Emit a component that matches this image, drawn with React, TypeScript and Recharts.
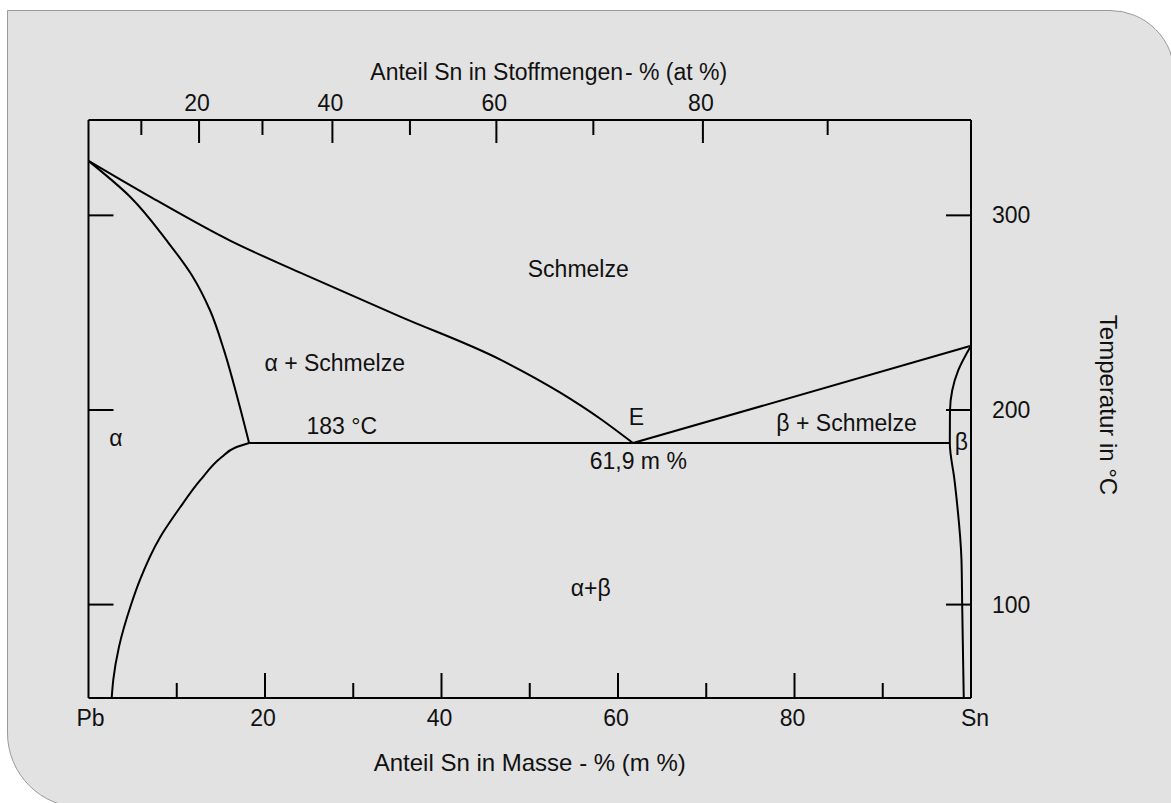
import { ComposedChart, Line, XAxis, YAxis, ReferenceDot } from 'recharts';

// Pb-Sn phase diagram, mass-% Sn on x, temperature °C on y
const massTicks = [0, 10, 20, 30, 40, 50, 60, 70, 80, 90, 100];
const atTicks = [10, 20, 30, 40, 50, 60, 70, 80, 90];
const tempTicks = [100, 200, 300];

const liquidusLeft = [
  { m: 0, t: 328 }, { m: 6.97, t: 309.6 }, { m: 16.04, t: 287 }, { m: 23.98, t: 270.6 },
  { m: 35.32, t: 248 }, { m: 46.66, t: 225.9 }, { m: 53.46, t: 208.9 }, { m: 57.99, t: 195.5 },
  { m: 61.7, t: 183 },
];
const liquidusRight = [{ m: 61.7, t: 183 }, { m: 100, t: 233 }];
const solidusAlpha = [
  { m: 0, t: 328 }, { m: 4.71, t: 309.6 }, { m: 8.87, t: 287 }, { m: 11.73, t: 269.1 },
  { m: 13.78, t: 251.1 }, { m: 15.36, t: 230.6 }, { m: 16.95, t: 205 }, { m: 18.2, t: 183 },
];
const solvusAlpha = [
  { m: 18.2, t: 183 }, { m: 16.6, t: 180.6 }, { m: 15.1, t: 175.8 }, { m: 12.64, t: 163.8 },
  { m: 10.37, t: 149.9 }, { m: 8.1, t: 134.5 }, { m: 5.84, t: 112.8 }, { m: 4.82, t: 99.9 },
  { m: 3.46, t: 78.4 }, { m: 2.81, t: 61.4 }, { m: 2.63, t: 52 },
];
const betaCurve = [
  { m: 99.18, t: 52 }, { m: 99.0, t: 100 }, { m: 98.92, t: 123 }, { m: 98.13, t: 164 },
  { m: 97.6, t: 183 }, { m: 97.62, t: 199.7 }, { m: 97.87, t: 210 }, { m: 98.55, t: 220.3 },
  { m: 100, t: 233 },
];
const eutectic = [{ m: 18.2, t: 183 }, { m: 97.6, t: 183 }];

const regionLabels = [
  { text: 'Schmelze', m: 55.5, t: 272.7 },
  { text: 'α + Schmelze', m: 27.9, t: 224.4 },
  { text: '183 °C', m: 28.7, t: 192 },
  { text: 'E', m: 62.1, t: 196.3 },
  { text: '61,9 m %', m: 62.3, t: 173.7 },
  { text: 'β + Schmelze', m: 85.9, t: 193.6 },
  { text: 'β', m: 98.9, t: 183.5 },
  { text: 'α', m: 3.1, t: 185.9 },
  { text: 'α+β', m: 56.9, t: 108.4 },
];

const M_SN = 118.71;
const M_PB = 207.2;
const massFromAt = (a: number) => (a * M_SN) / (a * M_SN + (100 - a) * M_PB) * 100;

const FONT = '"Liberation Sans", Arial, sans-serif';
const FS = 23;
const TITLE_FS = 24;
const INK = '#111';

const BottomTick = (props: any) => {
  const { x, y, payload } = props;
  const v = payload.value;
  const label = v === 0 ? 'Pb' : v === 100 ? 'Sn' : v % 20 === 0 ? String(v) : '';
  const len = v % 20 === 0 ? 25 : 15;
  return (
    <g>
      {v > 0 && v < 100 && <line x1={x} y1={y} x2={x} y2={y - len} stroke="#000" strokeWidth={2} />}
      {label && (
        <text x={x + (v === 0 ? 2 : v === 100 ? 4 : -2)} y={y + 20} textAnchor="middle" dominantBaseline="central"
          fontFamily={FONT} fontSize={FS} fill={INK}>{label}</text>
      )}
    </g>
  );
};

const TopTick = (props: any) => {
  const { x, y, index } = props;
  const a = atTicks[index];
  const major = a % 20 === 0;
  return (
    <g>
      <line x1={x} y1={y} x2={x} y2={y + (major ? 23 : 15)} stroke="#000" strokeWidth={2} />
      {major && (
        <text x={x - 2} y={y - 17} textAnchor="middle" dominantBaseline="central"
          fontFamily={FONT} fontSize={FS} fill={INK}>{a}</text>
      )}
    </g>
  );
};

const LeftTick = (props: any) => {
  const { x, y } = props;
  return <line x1={x} y1={y} x2={x + 25} y2={y} stroke="#000" strokeWidth={2} />;
};

const RightTick = (props: any) => {
  const { x, y, payload } = props;
  return (
    <g>
      <line x1={x} y1={y} x2={x - 25} y2={y} stroke="#000" strokeWidth={2} />
      <text x={x + 21} y={y} textAnchor="start" dominantBaseline="central"
        fontFamily={FONT} fontSize={FS} fill={INK}>{payload.value}</text>
    </g>
  );
};

const curveProps = {
  xAxisId: 'bottom',
  yAxisId: 'left',
  dataKey: 't',
  stroke: '#000',
  strokeWidth: 2,
  dot: false,
  activeDot: false,
  isAnimationActive: false,
} as const;

const axisLine = { stroke: '#000', strokeWidth: 2 };

export default function App() {
  return (
    <div style={{ position: 'absolute', left: 0, top: 0, width: 1171, height: 803, overflow: 'hidden', background: '#fff' }}>
      <div style={{
        position: 'absolute', left: 7, top: 10, width: 1168, height: 798,
        background: '#e2e2e2', border: '1px solid #9a9a9a', borderRadius: '0 65px 0 75px',
        boxSizing: 'border-box',
      }} />
      <div style={{ position: 'absolute', left: 0, top: 0 }}>
        <ComposedChart width={1171} height={803} margin={{ top: 119, right: 199, bottom: 104, left: 87.5 }}>
          <XAxis xAxisId="bottom" dataKey="m" type="number" domain={[0, 100]} ticks={massTicks} interval={0}
            height={1} tickSize={0} tickMargin={0} tickLine={false} tick={<BottomTick />} axisLine={axisLine}
            label={{
              content: (p: any) => (
                <text x={p.viewBox.x + p.viewBox.width / 2} y={p.viewBox.y + 64} textAnchor="middle"
                  dominantBaseline="central" fontFamily={FONT} fontSize={TITLE_FS} fill={INK}>
                  Anteil Sn in Masse - % (m %)
                </text>
              ),
            }} />
          <XAxis xAxisId="top" orientation="top" dataKey="m" type="number" domain={[0, 100]}
            ticks={atTicks.map(massFromAt)} interval={0}
            height={1} tickSize={0} tickMargin={0} tickLine={false} tick={<TopTick />} axisLine={axisLine}
            label={{
              content: (p: any) => (
                <text x={p.viewBox.x + p.viewBox.width / 2 + 19} y={p.viewBox.y - 47} textAnchor="middle"
                  dominantBaseline="central" fontFamily={FONT} fontSize={FS} fill={INK}>
                  Anteil Sn in Stoffmengen{'\u200A'}- % (at %)
                </text>
              ),
            }} />
          <YAxis yAxisId="left" type="number" domain={[52, 349]} ticks={tempTicks} interval={0}
            width={1} tickSize={0} tickMargin={0} tickLine={false} tick={<LeftTick />} axisLine={axisLine} />
          <YAxis yAxisId="right" orientation="right" type="number" domain={[52, 349]} ticks={tempTicks} interval={0}
            width={1} tickSize={0} tickMargin={0} tickLine={false} tick={<RightTick />} axisLine={axisLine}
            label={{
              content: (p: any) => (
                <text transform={`translate(${p.viewBox.x + 137},${p.viewBox.y + p.viewBox.height / 2 - 4}) rotate(90)`}
                  textAnchor="middle" dominantBaseline="central" fontFamily={FONT} fontSize={TITLE_FS} fill={INK}>
                  Temperatur in °C
                </text>
              ),
            }} />

          <Line {...curveProps} data={liquidusLeft} type="monotone" />
          <Line {...curveProps} data={liquidusRight} type="linear" />
          <Line {...curveProps} data={solidusAlpha} type="monotoneY" />
          <Line {...curveProps} data={solvusAlpha} type="monotoneY" />
          <Line {...curveProps} data={betaCurve} type="monotoneY" />
          <Line {...curveProps} data={eutectic} type="linear" />
          {/* invisible series so the top and right axes get their ticks */}
          <Line {...curveProps} xAxisId="top" yAxisId="right" data={eutectic} type="linear" stroke="none" />

          {regionLabels.map((l) => (
            <ReferenceDot key={l.text} xAxisId="bottom" yAxisId="left" x={l.m} y={l.t} r={0}
              fill="none" stroke="none" ifOverflow="visible"
              label={{ value: l.text, position: 'center', fill: INK, fontSize: FS, fontFamily: FONT }} />
          ))}
        </ComposedChart>
      </div>
    </div>
  );
}
